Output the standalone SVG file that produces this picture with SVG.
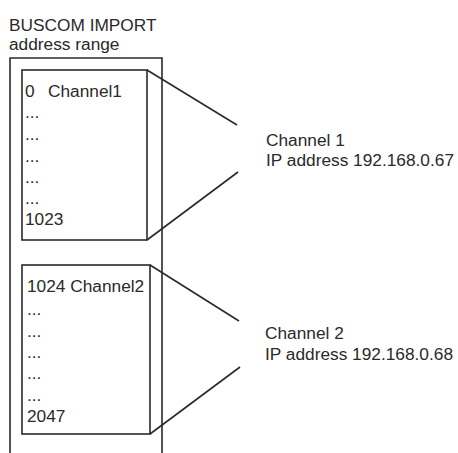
<svg xmlns="http://www.w3.org/2000/svg" width="458" height="453" viewBox="0 0 458 453">
<style>
text{font-family:"Liberation Sans",Arial,sans-serif;font-size:17.3px;fill:#2a2a2a}
.ln{fill:none;stroke:#2a2a2a;stroke-width:1.6}
</style>
<rect width="458" height="453" fill="#fff"/>
<g id="title">
<text x="9" y="31">BUSCOM IMPORT</text>
<text x="9" y="50">address range</text>
</g>
<g id="range">
<path class="ln" d="M10,453 V58 H162 V453"/>
</g>
<g id="block1">
<rect class="ln" x="22" y="70" width="125" height="170"/>
<text x="25" y="97">0</text>
<text x="48" y="97">Channel1</text>
<text x="25" y="118">...</text>
<text x="25" y="140">...</text>
<text x="25" y="162">...</text>
<text x="25" y="183">...</text>
<text x="25" y="204">...</text>
<text x="25" y="225">1023</text>
</g>
<g id="block2">
<rect class="ln" x="22" y="265" width="128" height="169"/>
<text x="27" y="292">1024 Channel2</text>
<text x="27" y="315">...</text>
<text x="27" y="337">...</text>
<text x="27" y="358">...</text>
<text x="27" y="379">...</text>
<text x="27" y="401">...</text>
<text x="27" y="422">2047</text>
</g>
<g id="channel1">
<text x="266" y="146">Channel 1</text>
<text x="266" y="166">IP address 192.168.0.67</text>
</g>
<g id="channel2">
<text x="265" y="339">Channel 2</text>
<text x="265" y="360">IP address 192.168.0.68</text>
</g>
<g id="connectors">
<line class="ln" x1="147" y1="70" x2="237" y2="125"/>
<line class="ln" x1="147" y1="240" x2="238" y2="172"/>
<line class="ln" x1="150" y1="265" x2="239" y2="321"/>
<line class="ln" x1="150" y1="434" x2="240" y2="367"/>
</g>
</svg>
